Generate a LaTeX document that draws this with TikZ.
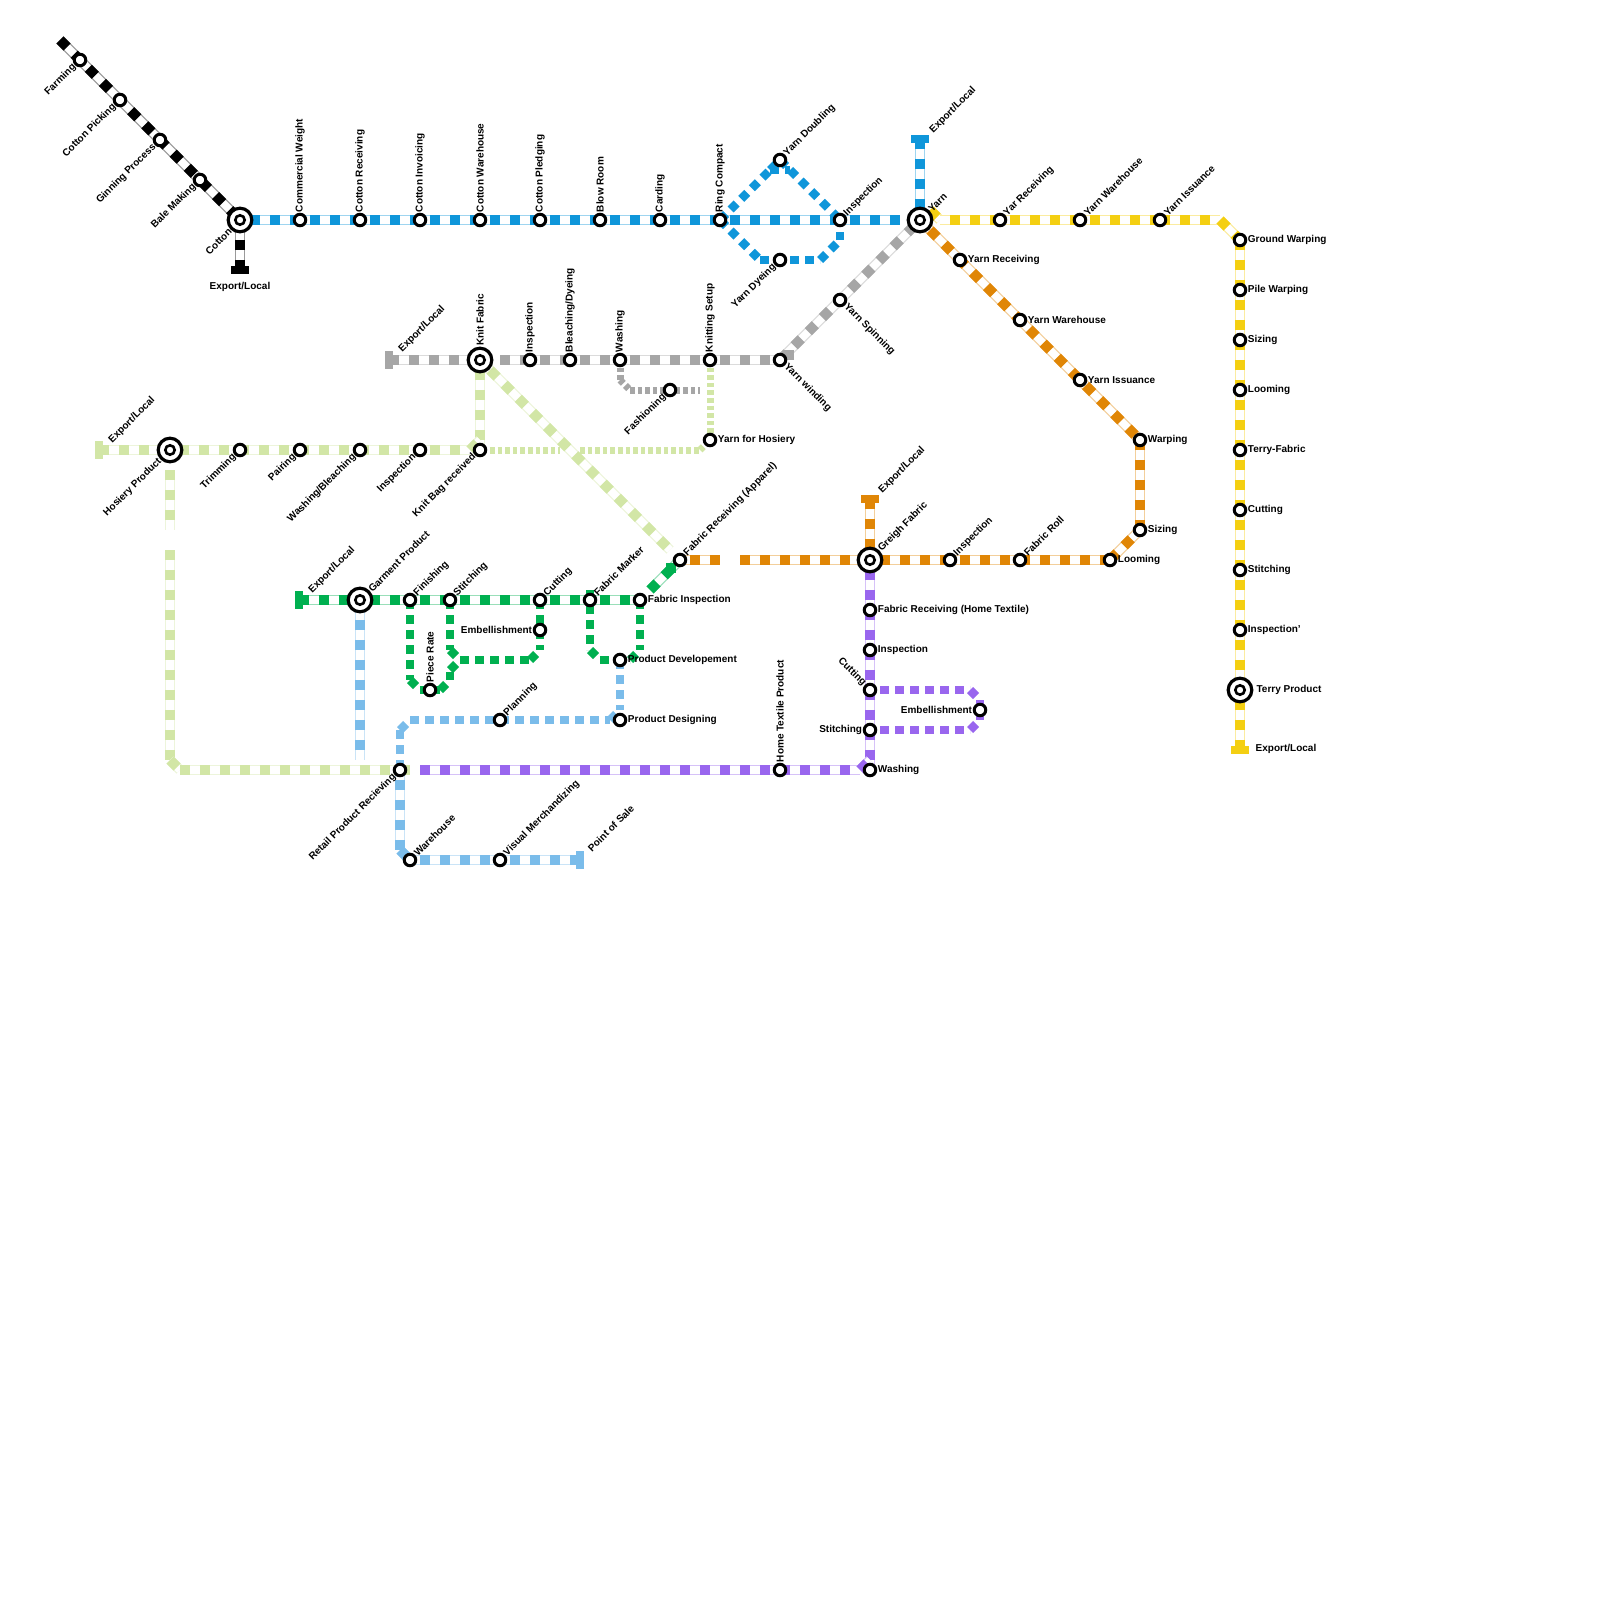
\documentclass[tikz,border=0pt]{standalone}
\usepackage{fontspec}
\setmainfont{Liberation Sans}
\usepackage{tikz}
\usetikzlibrary{backgrounds}
\definecolor{MapBlue}{HTML}{0F96DA}
\definecolor{MapYellow}{HTML}{F4CF12}
\definecolor{MapOrange}{HTML}{E08606}
\definecolor{MapGrey}{HTML}{A6A6A6}
\definecolor{MapPale}{HTML}{D2E6A6}
\definecolor{MapGreen}{HTML}{00B050}
\definecolor{MapSky}{HTML}{7ABCEA}
\definecolor{MapPurple}{HTML}{9966EE}
\tikzset{
  lab/.style={font=\fontsize{10}{12}\selectfont\bfseries,inner sep=0.5pt,text=black},
  stop/.style={circle,draw=black,fill=white,line width=3pt,minimum size=11.5pt,inner sep=0pt},
  hub/.style={circle,draw=black,fill=white,line width=3.2pt,minimum size=23.6pt,inner sep=0pt,
    path picture={\draw[line width=2.6pt] (path picture bounding box.center) circle (4.7pt);}},
  lup/.style={label={[lab,rotate=90,anchor=west]90:#1}},
  lne/.style={label={[lab,rotate=45,anchor=west]45:#1}},
  lsw/.style={label={[lab,rotate=45,anchor=east]225:#1}},
  lse/.style={label={[lab,rotate=-45,anchor=west]-45:#1}},
  lnw/.style={label={[lab,rotate=-45,anchor=east]135:#1}},
  lrt/.style={label={[lab,anchor=west]0:#1}},
  llt/.style={label={[lab,anchor=east]180:#1}},
  capH/.style={fill=#1,minimum width=18pt,minimum height=8pt,inner sep=0pt},
  capV/.style={fill=#1,minimum width=8pt,minimum height=18pt,inner sep=0pt},
  tube/.style={line width=10pt,draw=#1!40,postaction={draw=white,line width=7.6pt},
    postaction={draw=#1,line width=10pt,dash pattern=on 10pt off 10pt,dash phase=10pt}},
  tubeon/.style={line width=10pt,draw=#1!40,postaction={draw=white,line width=7.6pt},
    postaction={draw=#1,line width=10pt,dash pattern=on 10pt off 10pt}},
  dots/.style={draw=#1,line width=8.5pt,dash pattern=on 8.5pt off 6.5pt},
  fine/.style={draw=#1,line width=7pt,dash pattern=on 4.6pt off 3pt},
}
\begin{document}
\begin{tikzpicture}[x=1pt,y=-1pt]
  \useasboundingbox (0,0) rectangle (1600,1600);
  % caps
  \node[capH=black] (capcotton) at (240,270) {};
  \node[capH=MapBlue] (capyarn) at (920,139) {};
  \node[capH=MapYellow] (capterry) at (1240,750) {};
  \node[capH=MapOrange] (capgreigh) at (870,499) {};
  \node[capV=MapGrey] (capknit) at (388.5,360) {};
  \node[capV=MapPale] (caphosiery) at (98.5,450) {};
  \node[capV=MapGreen] (capgarment) at (298.5,600) {};
  \node[capV=MapSky] (capsale) at (580,860) {};
  % free ends and bends
  \coordinate (blackstart) at (60,40);
  \coordinate (blueend) at (900,220);
  \coordinate (dbA) at (770,170);
  \coordinate (dbB) at (790,170);
  \coordinate (dyA) at (760,260);
  \coordinate (dyB) at (820,260);
  \coordinate (dyC) at (840,240);
  \coordinate (ystub) at (930,210);
  \coordinate (ystart) at (940,220);
  \coordinate (ybend) at (1220,220);
  \coordinate (ostart) at (930,230);
  \coordinate (ogapA) at (740,560);
  \coordinate (ogapB) at (720,560);
  \coordinate (gstart) at (500,360);
  \coordinate (gbend) at (620,380);
  \coordinate (gbendB) at (630,390);
  \coordinate (gend) at (700,390);
  \coordinate (gstubA) at (794,355);
  \coordinate (gstubB) at (784,355);
  \coordinate (pstart) at (490,370);
  \coordinate (pend) at (670,550);
  \coordinate (pbend) at (470,450);
  \coordinate (pbendB) at (480,440);
  \coordinate (pdotA) at (490,450);
  \coordinate (pdotB) at (560,450);
  \coordinate (pdotC) at (580,450);
  \coordinate (pdotD) at (700,450);
  \coordinate (pdown) at (170,470);
  \coordinate (pgapA) at (170,530);
  \coordinate (pgapB) at (170,550);
  \coordinate (pcorner) at (170,760);
  \coordinate (pcornerB) at (180,770);
  \coordinate (pfinish) at (410,770);
  \coordinate (grA) at (650,590);
  \coordinate (grStubA) at (671,573);
  \coordinate (grStubB) at (671,563);
  \coordinate (grB) at (410,680);
  \coordinate (grC) at (420,690);
  \coordinate (grD) at (440,690);
  \coordinate (grE) at (450,680);
  \coordinate (grF) at (450,670);
  \coordinate (grG) at (460,660);
  \coordinate (grH) at (450,650);
  \coordinate (grI) at (530,660);
  \coordinate (grJ) at (540,650);
  \coordinate (grK) at (590,590);
  \coordinate (grL) at (590,650);
  \coordinate (grM) at (600,660);
  \coordinate (grN) at (630,660);
  \coordinate (grO) at (640,650);
  \coordinate (skyend) at (360,760);
  \coordinate (skyA) at (620,710);
  \coordinate (skyB) at (610,720);
  \coordinate (skyC) at (410,720);
  \coordinate (skyD) at (400,730);
  \coordinate (skyE) at (400,850);
  \coordinate (puA) at (420,770);
  \coordinate (puB) at (860,770);
  \coordinate (puC) at (870,760);
  \coordinate (puD) at (880,690);
  \coordinate (puE) at (970,690);
  \coordinate (puF) at (980,700);
  \coordinate (puG) at (980,720);
  \coordinate (puH) at (970,730);
  \coordinate (puI) at (880,730);
  % black line
  \node[stop,lsw=Farming] (farming) at (80,60) {};
  \node[stop,lsw=Cotton Picking] (picking) at (120,100) {};
  \node[stop,lsw=Ginning Process] (ginning) at (160,140) {};
  \node[stop,lsw=Bale Making] (bale) at (200,180) {};
  \node[hub,label distance=2.5pt,lsw=Cotton] (cotton) at (240,220) {};
  % blue line
  \node[stop,lup=Commercial Weight] (cweight) at (300,220) {};
  \node[stop,lup=Cotton Receiving] (creceive) at (360,220) {};
  \node[stop,lup=Cotton Invoicing] (cinvoice) at (420,220) {};
  \node[stop,lup=Cotton Warehouse] (cware) at (480,220) {};
  \node[stop,lup=Cotton Pledging] (cpledge) at (540,220) {};
  \node[stop,lup=Blow Room] (blow) at (600,220) {};
  \node[stop,lup=Carding] (carding) at (660,220) {};
  \node[stop,lup=Ring Compact] (ring) at (720,220) {};
  \node[stop,lne=Inspection] (binspect) at (840,220) {};
  \node[stop,lne=Yarn Doubling] (doubling) at (780,160) {};
  \node[stop,lsw=Yarn Dyeing] (dyeing) at (780,260) {};
  \node[hub,lne=Yarn] (yarn) at (920,220) {};
  % yellow line
  \node[stop,lne=Yar Receiving] (yreceive) at (1000,220) {};
  \node[stop,lne=Yarn Warehouse] (yware) at (1080,220) {};
  \node[stop,lne=Yarn Issuance] (yissue) at (1160,220) {};
  \node[stop,lrt=Ground Warping] (ground) at (1240,240) {};
  \node[stop,lrt=Pile Warping] (pile) at (1240,290) {};
  \node[stop,lrt=Sizing] (ysizing) at (1240,340) {};
  \node[stop,lrt=Looming] (ylooming) at (1240,390) {};
  \node[stop,lrt=Terry-Fabric] (terryfab) at (1240,450) {};
  \node[stop,lrt=Cutting] (ycutting) at (1240,510) {};
  \node[stop,lrt=Stitching] (ystitch) at (1240,570) {};
  \node[stop,lrt=Inspection'] (yinspect) at (1240,630) {};
  \node[hub,label={[lab,anchor=west,inner sep=3pt]0:Terry Product}] (terry) at (1240,690) {};
  % orange line
  \node[stop,lrt=Yarn Receiving] (oreceive) at (960,260) {};
  \node[stop,lrt=Yarn Warehouse] (oware) at (1020,320) {};
  \node[stop,lrt=Yarn Issuance] (oissue) at (1080,380) {};
  \node[stop,lrt=Warping] (warping) at (1140,440) {};
  \node[stop,lrt=Sizing] (osizing) at (1140,530) {};
  \node[stop,lrt=Looming] (olooming) at (1110,560) {};
  \node[stop,lne=Fabric Roll] (roll) at (1020,560) {};
  \node[stop,lne=Inspection] (oinspect) at (950,560) {};
  \node[hub,lne=Greigh Fabric] (greigh) at (870,560) {};
  \node[stop,lne=Fabric Receiving (Apparel)] (apparel) at (680,560) {};
  % grey line
  \node[stop,lse=Yarn Spinning] (spinning) at (840,300) {};
  \node[stop,lse=Yarn winding] (winding) at (780,360) {};
  \node[stop,lup=Knitting Setup] (knitting) at (710,360) {};
  \node[stop,lup=Washing] (gwash) at (620,360) {};
  \node[stop,lup=Bleaching/Dyeing] (bleach) at (570,360) {};
  \node[stop,lup=Inspection] (ginspect) at (530,360) {};
  \node[hub,lup=Knit Fabric] (knit) at (480,360) {};
  \node[stop,lsw=Fashioning] (fashion) at (670,390) {};
  % pale line
  \node[stop,lrt=Yarn for Hosiery] (hosieryyarn) at (710,440) {};
  \node[stop,lsw=Knit Bag received] (knitbag) at (480,450) {};
  \node[stop,lsw=Inspection] (pinspect) at (420,450) {};
  \node[stop,lsw=Washing/Bleaching] (pwash) at (360,450) {};
  \node[stop,lsw=Pairing] (pairing) at (300,450) {};
  \node[stop,lsw=Trimming] (trimming) at (240,450) {};
  \node[hub,label distance=2.5pt,lsw=Hosiery Product] (hosiery) at (170,450) {};
  \node[stop,lsw=Retail Product Recieving] (retail) at (400,770) {};
  % green line
  \node[stop,lrt=Fabric Inspection] (finspect) at (640,600) {};
  \node[stop,lne=Fabric Marker] (marker) at (590,600) {};
  \node[stop,lne=Cutting] (gcutting) at (540,600) {};
  \node[stop,llt=Embellishment] (gembel) at (540,630) {};
  \node[stop,lne=Stitching] (gstitch) at (450,600) {};
  \node[stop,lne=Finishing] (finishing) at (410,600) {};
  \node[hub,lne=Garment Product] (garment) at (360,600) {};
  \node[stop,lup=Piece Rate] (piece) at (430,690) {};
  \node[stop,lrt=Product Developement] (develop) at (620,660) {};
  % sky line
  \node[stop,lrt=Product Designing] (design) at (620,720) {};
  \node[stop,lne=Planning] (planning) at (500,720) {};
  \node[stop,lne=Warehouse] (ware) at (410,860) {};
  \node[stop,lne=Visual Merchandizing] (visual) at (500,860) {};
  % purple line
  \node[stop,lrt=Fabric Receiving (Home Textile)] (home) at (870,610) {};
  \node[stop,lrt=Inspection] (puinspect) at (870,650) {};
  \node[stop,lnw=Cutting] (pucutting) at (870,690) {};
  \node[stop,llt=Stitching] (pustitch) at (870,730) {};
  \node[stop,lrt=Washing] (puwash) at (870,770) {};
  \node[stop,llt=Embellishment] (puembel) at (980,710) {};
  \node[stop,lup=Home Textile Product] (hometex) at (780,770) {};
  % free labels
  \node[lab,rotate=45,anchor=west] (expyarn) at (931,132) {Export/Local};
  \node[lab,rotate=45,anchor=west] (expknit) at (400,351) {Export/Local};
  \node[lab,rotate=45,anchor=west] (exphosiery) at (110,442) {Export/Local};
  \node[lab,rotate=45,anchor=west] (expgarment) at (310,592) {Export/Local};
  \node[lab,rotate=45,anchor=west] (expgreigh) at (880,492) {Export/Local};
  \node[lab,rotate=45,anchor=west] (sale) at (589,850) {Point of Sale};
  \node[lab,anchor=west] (expterry) at (1255,749) {Export/Local};
  \node[lab] (expcotton) at (240,287) {Export/Local};
  \begin{scope}[on background layer]
    % pale
    \draw[tubeon=MapPale] (caphosiery.center)--(pinspect.center);
    \foreach \x/\y in {pinspect/pbend,knit/knitbag}{\draw[tube=MapPale] (\x.center)--(\y.center);}
    \foreach \x/\y in {pbend/pbendB,knit/pstart,pstart/pend,pdown/pgapA,pgapB/pcorner,pcorner/pcornerB,pcornerB/pfinish}{\draw[tubeon=MapPale] (\x.center)--(\y.center);}
    \foreach \x/\y in {pdotA/pdotB,pdotC/pdotD,pdotD/hosieryyarn,knitting/hosieryyarn}{\draw[fine=MapPale] (\x.center)--(\y.center);}
    % grey
    \foreach \x/\y in {capknit/knit,gstart/gwash,winding/yarn,gstubA/gstubB}{\draw[tubeon=MapGrey] (\x.center)--(\y.center);}
    \foreach \x/\y in {gwash/knitting,knitting/winding}{\draw[tube=MapGrey] (\x.center)--(\y.center);}
    \foreach \x/\y in {gwash/gbend,gbend/gbendB,gbendB/gend}{\draw[fine=MapGrey] (\x.center)--(\y.center);}
    % black
    \foreach \x/\y in {blackstart/cotton,cotton/capcotton}{\draw[tubeon=black] (\x.center)--(\y.center);}
    % blue
    \foreach \x/\y in {cotton/cweight,cweight/creceive,creceive/cinvoice,cinvoice/cware,cware/cpledge,cpledge/blow,blow/carding,carding/ring,ring/binspect,binspect/blueend}{\draw[tube=MapBlue] (\x.center)--(\y.center);}
    \draw[tubeon=MapBlue] (capyarn.center)--(yarn.center);
    \foreach \x/\y in {ring/dbA,dbA/doubling,doubling/dbB,dbA/dbB,dbB/binspect,ring/dyA,dyA/dyB,dyB/dyC,dyC/binspect}{\draw[dots=MapBlue] (\x.center)--(\y.center);}
    % yellow
    \foreach \x/\y in {ystub/ystart,yissue/ybend,ybend/ground,ground/capterry}{\draw[tubeon=MapYellow] (\x.center)--(\y.center);}
    \foreach \x/\y in {ystart/yreceive,yreceive/yware,yware/yissue}{\draw[tube=MapYellow] (\x.center)--(\y.center);}
    % orange
    \foreach \x/\y in {yarn/ostart,ostart/warping,warping/osizing,olooming/osizing,olooming/greigh,capgreigh/greigh,ogapA/greigh}{\draw[tubeon=MapOrange] (\x.center)--(\y.center);}
    \draw[tube=MapOrange] (apparel.center)--(ogapB.center);
    % green
    \foreach \x/\y in {capgarment/garment,grA/apparel,grStubA/grStubB}{\draw[tubeon=MapGreen] (\x.center)--(\y.center);}
    \foreach \x/\y in {garment/finishing,finishing/gstitch,gstitch/gcutting,gcutting/marker,marker/finspect}{\draw[tube=MapGreen] (\x.center)--(\y.center);}
    \foreach \x/\y in {finishing/grB,grB/grC,grC/grD,grD/grE,grE/grF,grF/grG,gstitch/grH,grH/grG,grG/grI,grI/grJ,gcutting/grJ,grK/grL,grL/grM,grM/grN,grN/grO,finspect/grO}{\draw[dots=MapGreen] (\x.center)--(\y.center);}
    % sky
    \foreach \x/\y in {garment/skyend,skyE/ware}{\draw[tubeon=MapSky] (\x.center)--(\y.center);}
    \foreach \x/\y in {retail/skyE,ware/visual,visual/capsale}{\draw[tube=MapSky] (\x.center)--(\y.center);}
    \foreach \x/\y in {develop/skyA,skyB/skyA,skyC/skyB,skyD/skyC,skyD/retail}{\draw[dots=MapSky] (\x.center)--(\y.center);}
    % purple
    \draw[tube=MapPurple] (greigh.center)--(home.center);
    \foreach \x/\y in {home/puinspect,puinspect/pucutting,pucutting/pustitch,pustitch/puwash,puA/puB,puB/puC}{\draw[tubeon=MapPurple] (\x.center)--(\y.center);}
    \foreach \x/\y in {puD/puE,puE/puF,puF/puG,puH/puG,puI/puH}{\draw[dots=MapPurple] (\x.center)--(\y.center);}
  \end{scope}
\end{tikzpicture}
\end{document}
